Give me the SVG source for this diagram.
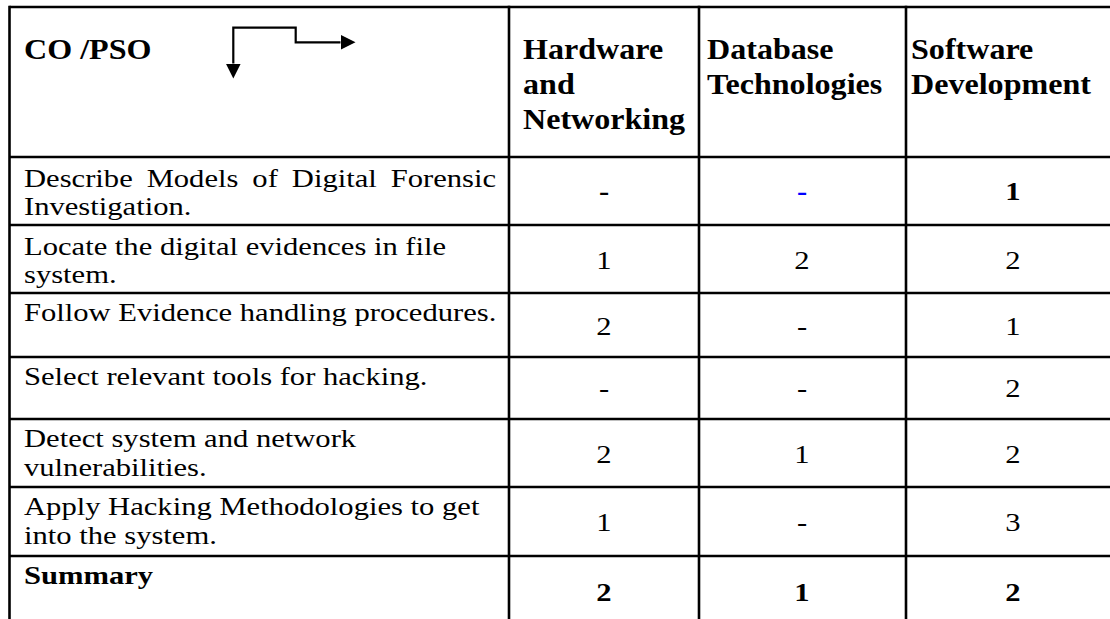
<svg xmlns="http://www.w3.org/2000/svg" width="1110" height="619" viewBox="0 0 1110 619">
  <style>
    .grid line { stroke: #000; stroke-width: 2.6; }
    text { font-family: "Liberation Serif", "Times New Roman", serif; fill: #000; }
    .hd { font-size: 30px; font-weight: bold; }
    .bd { font-size: 25.5px; }
    .bb { font-size: 25.5px; font-weight: bold; }
    .num { font-size: 25.5px; text-anchor: middle; }
    .numb { font-size: 25.5px; font-weight: bold; text-anchor: middle; }
    .blue { fill: #0000ff; }
    .conn { fill: none; stroke: #000; stroke-width: 2.2; }
  </style>
  <defs>
    <marker id="head" markerUnits="userSpaceOnUse" viewBox="0 0 15 15" refX="0" refY="7.5" markerWidth="15" markerHeight="15" orient="auto-start-reverse">
      <path d="M0,0 L15,7.5 L0,15 z" fill="#000"/>
    </marker>
  </defs>
  <rect width="1110" height="619" fill="#fff"/>

  <!-- table rules -->
  <g id="grid" class="grid">
    <line x1="9.5" y1="7" x2="1110" y2="7"/>
    <line x1="9.5" y1="157" x2="1110" y2="157"/>
    <line x1="9.5" y1="225" x2="1110" y2="225"/>
    <line x1="9.5" y1="293" x2="1110" y2="293"/>
    <line x1="9.5" y1="357" x2="1110" y2="357"/>
    <line x1="9.5" y1="419" x2="1110" y2="419"/>
    <line x1="9.5" y1="487" x2="1110" y2="487"/>
    <line x1="9.5" y1="556" x2="1110" y2="556"/>
    <line x1="9.5" y1="5.7" x2="9.5" y2="619"/>
    <line x1="509" y1="5.7" x2="509" y2="619"/>
    <line x1="699" y1="5.7" x2="699" y2="619"/>
    <line x1="906" y1="5.7" x2="906" y2="619"/>
  </g>

  <!-- elbow arrow in the header cell -->
  <g id="connectors">
    <path class="conn" d="M233.3,63.5 V27.7 H295.7 V42.3 H340.5" marker-start="url(#head)" marker-end="url(#head)"/>
  </g>

  <!-- header row -->
  <g id="header">
    <text class="hd" transform="translate(24,59) scale(1.07,1)">CO /PSO</text>
    <text class="hd" transform="translate(523,59) scale(1.07,1)">Hardware</text>
    <text class="hd" transform="translate(523,94) scale(1.07,1)">and</text>
    <text class="hd" transform="translate(523,129) scale(1.07,1)">Networking</text>
    <text class="hd" transform="translate(707,59) scale(1.07,1)">Database</text>
    <text class="hd" transform="translate(707,94) scale(1.07,1)">Technologies</text>
    <text class="hd" transform="translate(911,59) scale(1.07,1)">Software</text>
    <text class="hd" transform="translate(911,94) scale(1.07,1)">Development</text>
  </g>

  <g id="row-1">
    <text class="bd" transform="translate(24,187) scale(1.2,1)"><tspan x="0">Describe</tspan><tspan x="102.2">Models</tspan><tspan x="190.3">of</tspan><tspan x="223.2">Digital</tspan><tspan x="305.6">Forensic</tspan></text>
    <text class="bd" transform="translate(24,215) scale(1.2,1)">Investigation.</text>
    <text class="numb" transform="translate(604,200) scale(1.2,1)">-</text>
    <text class="numb blue" transform="translate(802,200) scale(1.2,1)">-</text>
    <text class="numb" transform="translate(1013,200) scale(1.2,1)">1</text>
  </g>

  <g id="row-2">
    <text class="bd" transform="translate(24,255) scale(1.2,1)">Locate the digital evidences in file</text>
    <text class="bd" transform="translate(24,283) scale(1.2,1)">system.</text>
    <text class="num" transform="translate(604,269) scale(1.2,1)">1</text>
    <text class="num" transform="translate(802,269) scale(1.2,1)">2</text>
    <text class="num" transform="translate(1013,269) scale(1.2,1)">2</text>
  </g>

  <g id="row-3">
    <text class="bd" transform="translate(24,321) scale(1.2,1)">Follow Evidence handling procedures.</text>
    <text class="num" transform="translate(604,335) scale(1.2,1)">2</text>
    <text class="num" transform="translate(802,335) scale(1.2,1)">-</text>
    <text class="num" transform="translate(1013,335) scale(1.2,1)">1</text>
  </g>

  <g id="row-4">
    <text class="bd" transform="translate(24,385) scale(1.2,1)">Select relevant tools for hacking.</text>
    <text class="num" transform="translate(604,397) scale(1.2,1)">-</text>
    <text class="num" transform="translate(802,397) scale(1.2,1)">-</text>
    <text class="num" transform="translate(1013,397) scale(1.2,1)">2</text>
  </g>

  <g id="row-5">
    <text class="bd" transform="translate(24,447) scale(1.2,1)">Detect system and network</text>
    <text class="bd" transform="translate(24,476) scale(1.2,1)">vulnerabilities.</text>
    <text class="num" transform="translate(604,463) scale(1.2,1)">2</text>
    <text class="num" transform="translate(802,463) scale(1.2,1)">1</text>
    <text class="num" transform="translate(1013,463) scale(1.2,1)">2</text>
  </g>

  <g id="row-6">
    <text class="bd" transform="translate(24,515) scale(1.2,1)">Apply Hacking Methodologies to get</text>
    <text class="bd" transform="translate(24,544) scale(1.2,1)">into the system.</text>
    <text class="num" transform="translate(604,531) scale(1.2,1)">1</text>
    <text class="num" transform="translate(802,531) scale(1.2,1)">-</text>
    <text class="num" transform="translate(1013,531) scale(1.2,1)">3</text>
  </g>

  <g id="row-summary">
    <text class="bb" transform="translate(24,584) scale(1.2,1)">Summary</text>
    <text class="numb" transform="translate(604,601) scale(1.2,1)">2</text>
    <text class="numb" transform="translate(802,601) scale(1.2,1)">1</text>
    <text class="numb" transform="translate(1013,601) scale(1.2,1)">2</text>
  </g>
</svg>
